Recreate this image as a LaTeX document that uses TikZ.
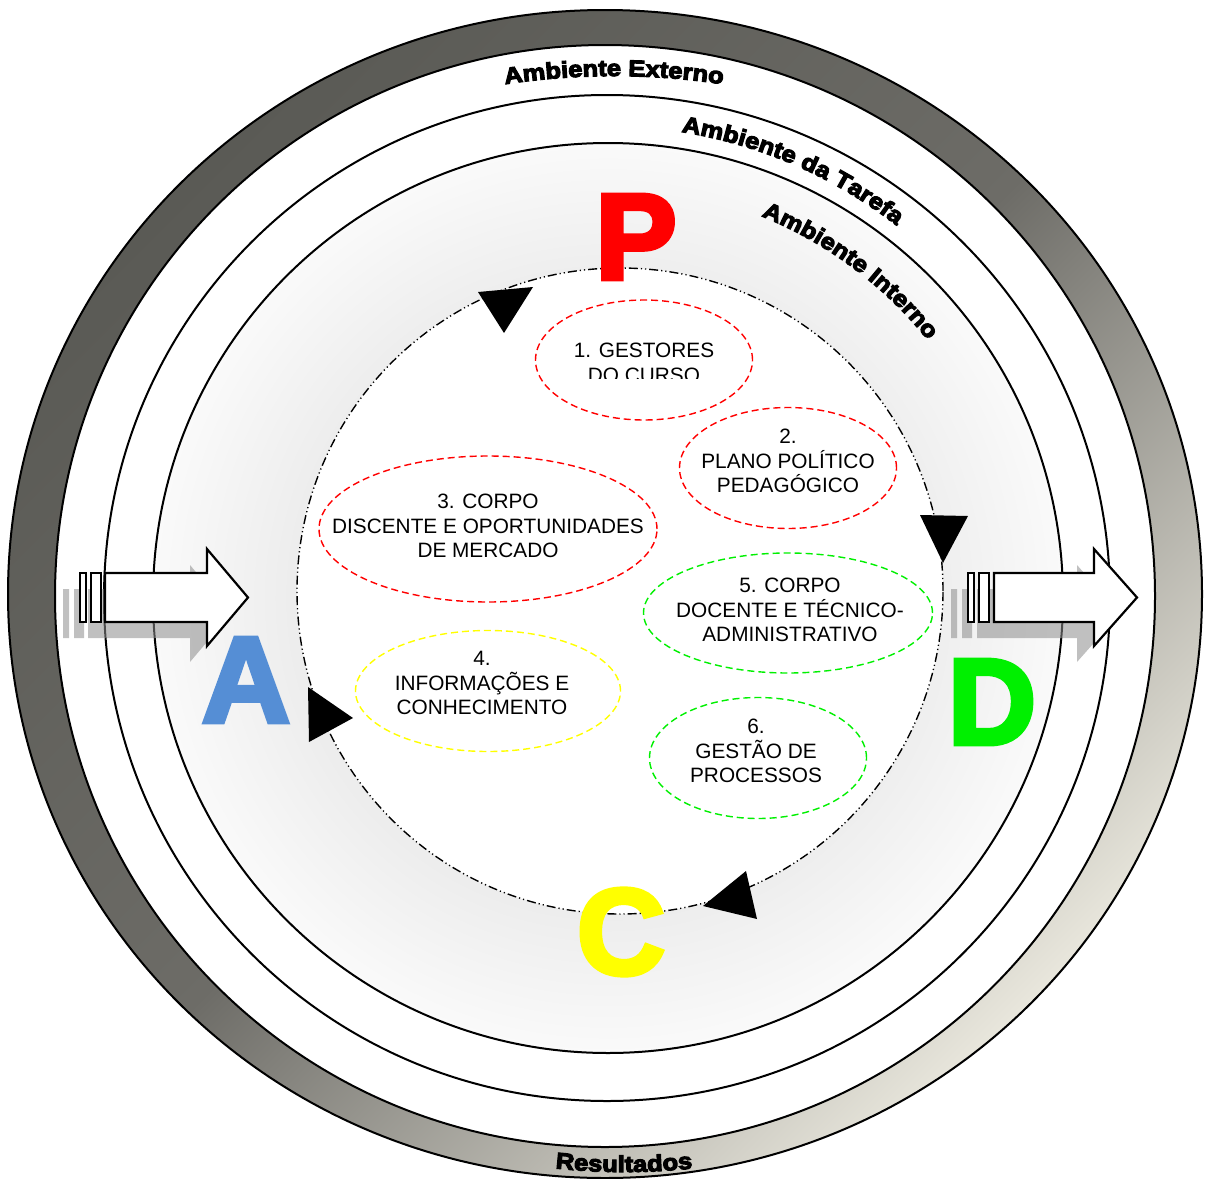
\documentclass[tikz,border=0pt]{standalone}
\usepackage{fontspec}
\setmainfont{Liberation Sans}
\newfontfamily\ringfont[FakeStretch=1.12,FakeBold=5]{Liberation Sans Bold}
\newfontfamily\pdcafont[FakeBold=4]{Liberation Sans Bold}
\usepackage{tikz}
\usetikzlibrary{shapes,arrows,positioning,decorations.text}

\definecolor{ringdark}{HTML}{5A5A55}
\definecolor{ringmid}{HTML}{6D6C67}
\definecolor{ringlight}{HTML}{E8E6DC}
\definecolor{letterblue}{HTML}{558ED5}
\definecolor{stepred}{HTML}{FF0000}
\definecolor{stepgreen}{HTML}{00F000}
\definecolor{stepyellow}{HTML}{FFFF00}

\pgfdeclareradialshading{innerglow}{\pgfpoint{0bp}{0bp}}{color(0bp)=(black!8); color(16bp)=(black!8); color(25bp)=(black!2); color(50bp)=(black!2)}

\begin{document}
\begin{tikzpicture}[
    x=0.5pt, y=0.5pt,
    thick,
    item/.style={
        ellipse,
        draw,
        line width=0.7pt,
        dash pattern=on 3.5pt off 2pt,
        inner sep=0pt
    },
    itemtext/.style={
        align=center,
        inner sep=0pt,
        font=\fontsize{10.4}{12.2}\selectfont
    },
    letter/.style={inner sep=0pt, font=\pdcafont\fontsize{61}{61}\selectfont},
    cycleline/.style={line width=0.7pt, dash pattern=on 4.5pt off 1.5pt on 0.6pt off 1.5pt on 0.6pt off 1.5pt},
    ringlabel/.style={decorate, decoration={text along path, text align=center,
        text={|\ringfont\fontsize{11.4}{12}\selectfont|#1}}},
    block/.style={draw, fill=white, line width=1.1pt, line join=miter},
    blockshadow/.style={fill=black!45, fill opacity=0.55}
]
    \useasboundingbox (0,0) rectangle (1210,-1178);

    % anel externo (resultados)
    \shade[top color=ringdark, bottom color=ringlight, middle color=ringmid, shading angle=45, even odd rule]
        (605,-594) ellipse[x radius=597, y radius=584] (605,-596) ellipse[x radius=550, y radius=551];
    \draw[line width=1pt] (605,-594) ellipse[x radius=597, y radius=584];
    \draw[line width=1pt] (605,-596) ellipse[x radius=550, y radius=551];

    % ambientes
    \draw[line width=1pt] (607,-598) circle[radius=503];
    \shade[shading=innerglow] (608,-598) circle[radius=455];
    \draw[line width=1pt] (608,-598) circle[radius=455];
    \filldraw[fill=white, cycleline] (620,-591) circle[radius=323];

    % setas de entrada e saida
    \begin{scope}[shift={(80,-597.5)}]
        \fill[blockshadow, shift={(-17,-16)}] (0,-24.5) rectangle (6,24.5) (11,-24.5) rectangle (21,24.5)
            (25,-24.5) -- (127,-24.5) -- (127,-48.5) -- (168,0) -- (127,48.5) -- (127,24.5) -- (25,24.5) -- cycle;
        \draw[block] (0,-24.5) rectangle (6,24.5);
        \draw[block] (11,-24.5) rectangle (21,24.5);
        \draw[block] (25,-24.5) -- (127,-24.5) -- (127,-48.5) -- (168,0) -- (127,48.5) -- (127,24.5) -- (25,24.5) -- cycle;
    \end{scope}
    \begin{scope}[shift={(968,-597.5)}]
        \fill[blockshadow, shift={(-17,-16)}] (0,-24.5) rectangle (6,24.5) (11,-24.5) rectangle (21,24.5)
            (26,-24.5) -- (126,-24.5) -- (126,-48.5) -- (169,0) -- (126,48.5) -- (126,24.5) -- (26,24.5) -- cycle;
        \draw[block] (0,-24.5) rectangle (6,24.5);
        \draw[block] (11,-24.5) rectangle (21,24.5);
        \draw[block] (26,-24.5) -- (126,-24.5) -- (126,-48.5) -- (169,0) -- (126,48.5) -- (126,24.5) -- (26,24.5) -- cycle;
    \end{scope}

    % itens
    \node[item, draw=stepred, minimum width=108.5pt, minimum height=60pt] (gestores) at (644,-360) {};
    \begin{scope}
        \clip (540,-330) rectangle (750,-378);
        \node[itemtext] at (644,-363) {1. GESTORES\\DO CURSO};
    \end{scope}
    \node[item, draw=stepred, minimum width=108.5pt, minimum height=60.5pt] (plano) at (788,-468) {};
    \node[itemtext] at (788,-461) {2.\\PLANO POLÍTICO\\PEDAGÓGICO};
    \node[item, draw=stepred, minimum width=169pt, minimum height=73pt] (discente) at (488,-529) {};
    \node[itemtext] at (488,-526) {3. CORPO\\DISCENTE E OPORTUNIDADES\\DE MERCADO};
    \node[item, draw=stepyellow, minimum width=132.5pt, minimum height=60.5pt] (informacoes) at (488,-691) {};
    \node[itemtext] at (482,-683) {4.\\INFORMAÇÕES E\\CONHECIMENTO};
    \node[item, draw=stepgreen, minimum width=144.5pt, minimum height=60pt] (docente) at (788,-613) {};
    \node[itemtext] at (790,-610) {5. CORPO\\DOCENTE E TÉCNICO-\\ADMINISTRATIVO};
    \node[item, draw=stepgreen, minimum width=108.5pt, minimum height=60.5pt] (processos) at (758,-758) {};
    \node[itemtext] at (756,-751) {6.\\GESTÃO DE\\PROCESSOS};

    % setas do ciclo
    \fill (478,-292) -- (533,-287) -- (504,-333) -- cycle;
    \fill (920,-515) -- (968,-516) -- (943,-563) -- cycle;
    \fill (703,-906) -- (746,-871) -- (757,-919) -- cycle;
    \fill (308,-687) -- (309,-742) -- (353,-718) -- cycle;

    % PDCA
    \node[letter, text=stepred] (plan) at (636,-237) {P};
    \node[letter, text=stepgreen] (do) at (992,-702) {D};
    \node[letter, text=stepyellow] (check) at (621,-932) {C};
    \node[letter, text=letterblue] (act) at (246,-680) {A};

    % rotulos dos aneis
    \path[ringlabel={Ambiente Externo}] ([shift={(614,-801)}]100:725) arc[start angle=100, end angle=80, radius=725];
    \path[ringlabel={Ambiente da Tarefa}] ([shift={(607,-597)}]100:471) arc[start angle=100, end angle=33, radius=471];
    \path[ringlabel={Ambiente Interno}] ([shift={(607,-597)}]88:411) arc[start angle=88, end angle=18.6, radius=411];
    \path[ringlabel={Resultados}] ([shift={(624,-542)}]255:630) arc[start angle=255, end angle=285, radius=630];
\end{tikzpicture}
\end{document}
